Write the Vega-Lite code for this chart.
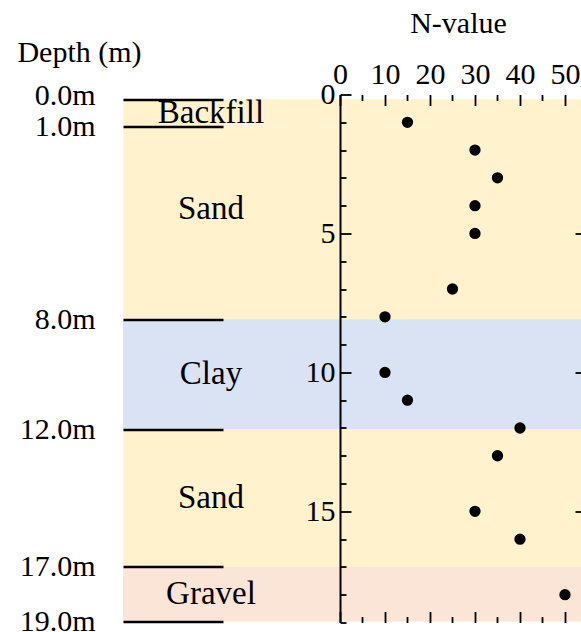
{
  "$schema": "https://vega.github.io/schema/vega-lite/v6.json",
  "autosize": "none",
  "width": 458,
  "height": 528,
  "padding": {"left": 123, "top": 94.5, "right": 0, "bottom": 9.5},
  "background": "white",
  "config": {
    "view": {"stroke": null},
    "font": "Liberation Serif, Times New Roman, serif",
    "axis": {"zindex": 2, "labelFont": "Liberation Serif, Times New Roman, serif", "titleFont": "Liberation Serif, Times New Roman, serif", "labelColor": "black", "titleColor": "black", "tickColor": "black", "domainColor": "black", "grid": false, "labelFlush": false, "labelOverlap": false, "labelBound": false, "titleFontWeight": "normal"}
  },
  "datasets": {
    "layers": [
      {"soil": "Backfill", "top": 0, "bottom": 1, "mid": 0.5},
      {"soil": "Sand", "top": 1, "bottom": 8, "mid": 4},
      {"soil": "Clay", "top": 8, "bottom": 12, "mid": 10},
      {"soil": "Sand", "top": 12, "bottom": 17, "mid": 14.5},
      {"soil": "Gravel", "top": 17, "bottom": 19, "mid": 18}
    ],
    "spt": [
      {"depth": 1, "N": 15},
      {"depth": 2, "N": 30},
      {"depth": 3, "N": 35},
      {"depth": 4, "N": 30},
      {"depth": 5, "N": 30},
      {"depth": 7, "N": 25},
      {"depth": 8, "N": 10},
      {"depth": 10, "N": 10},
      {"depth": 11, "N": 15},
      {"depth": 12, "N": 40},
      {"depth": 13, "N": 35},
      {"depth": 15, "N": 30},
      {"depth": 16, "N": 40},
      {"depth": 18, "N": 50}
    ]
  },
  "resolve": {"scale": {"y": "independent"}, "axis": {"x": "independent", "y": "independent"}},
  "layer": [
    {
      "data": {"name": "layers"},
      "mark": {"type": "rect"},
      "encoding": {
        "y": {"field": "top", "type": "quantitative", "scale": {"domain": [-0.175, 19.036], "nice": false, "zero": false, "reverse": true},
          "axis": {"zindex": 3, "orient": "left", "values": [0, 1, 8, 12, 17, 19], "labelExpr": "format(datum.value, '.1f') + 'm'", "tickSize": -100, "tickWidth": 2.5, "labelPadding": 128, "labelFontSize": 30, "labelBaseline": "middle", "labelAlign": "right", "domain": false,
            "labelOffset": {"condition": {"test": "datum.value === 0", "value": -4}, "value": 0},
            "title": "Depth (m)", "titleAngle": 0, "titleAlign": "center", "titleBaseline": "alphabetic", "titleX": -44, "titleY": -33.5, "titleFontSize": 30}},
        "y2": {"field": "bottom"},
        "color": {"field": "soil", "type": "nominal", "scale": {"domain": ["Backfill", "Sand", "Clay", "Gravel"], "range": ["#FFF2CC", "#FFF2CC", "#DAE3F3", "#FBE5D6"]}, "legend": null}
      }
    },
    {
      "data": {"name": "layers"},
      "mark": {"type": "text", "fontSize": 33, "font": "Liberation Serif, Times New Roman, serif", "align": "center", "baseline": "middle", "color": "black"},
      "encoding": {
        "x": {"datum": -28.67, "type": "quantitative", "scale": {"domain": [-48.22, 53.56], "nice": false, "zero": false}, "axis": null},
        "y": {"field": "mid", "type": "quantitative", "scale": {"domain": [-0.175, 19.036], "nice": false, "zero": false, "reverse": true}, "axis": null},
        "text": {"field": "soil"}
      }
    },
    {
      "data": {"name": "spt"},
      "mark": {"type": "point", "shape": "circle", "filled": true, "color": "black", "size": 128, "opacity": 1},
      "encoding": {
        "x": {"field": "N", "type": "quantitative", "scale": {"domain": [-48.22, 53.56], "nice": false, "zero": false},
          "axis": {"zindex": 3, "orient": "top", "values": [0, 5, 10, 15, 20, 25, 30, 35, 40, 45, 50], "labelExpr": "datum.value % 10 === 0 ? datum.label : ''",
            "tickSize": {"condition": {"test": "datum.value % 10 === 0", "value": -11}, "value": -6}, "tickWidth": 1.8, "labelPadding": 22, "labelFontSize": 30, "labelBaseline": "alphabetic", "domain": false,
            "title": "N-value", "titleAlign": "center", "titleBaseline": "alphabetic", "titleX": 335, "titleY": -62.2, "titleFontSize": 30}},
        "y": {"field": "depth", "type": "quantitative", "scale": {"domain": [0, 19], "nice": false, "zero": false, "reverse": true},
          "axis": {"zindex": 3, "orient": "left", "offset": -217, "values": [0, 1, 2, 3, 4, 5, 6, 7, 8, 9, 10, 11, 12, 13, 14, 15, 16, 17, 18, 19], "labelExpr": "datum.value % 5 === 0 ? datum.label : ''",
            "tickSize": {"condition": {"test": "datum.value % 5 === 0", "value": -11}, "value": -6}, "tickWidth": 1.8, "labelPadding": 16, "labelFontSize": 30, "labelBaseline": "middle", "domain": true, "domainWidth": 2, "title": null}}
      }
    },
    {
      "mark": {"type": "rule", "strokeWidth": 2, "color": "black"},
      "encoding": {
        "x": {"datum": 0, "type": "quantitative", "scale": {"domain": [-48.22, 53.56], "nice": false, "zero": false},
          "axis": {"zindex": 3, "orient": "bottom", "values": [0, 5, 10, 15, 20, 25, 30, 35, 40, 45, 50], "labels": false, "domain": false,
            "tickSize": {"condition": {"test": "datum.value % 10 === 0", "value": -11}, "value": -6}, "tickWidth": 1.8, "title": null}},
        "x2": {"datum": 53.56},
        "y": {"datum": 19, "type": "quantitative", "scale": {"domain": [0, 19], "nice": false, "zero": false, "reverse": true},
          "axis": {"zindex": 3, "orient": "right", "values": [5, 10, 15], "labels": false, "domain": false, "tickSize": -6, "tickWidth": 1.8, "title": null}}
      }
    },
    {
      "mark": {"type": "rule", "strokeWidth": 2, "color": "black"},
      "encoding": {
        "x": {"datum": 0, "type": "quantitative", "scale": {"domain": [-48.22, 53.56], "nice": false, "zero": false}, "axis": null},
        "x2": {"datum": 53.56},
        "y": {"datum": 0, "type": "quantitative", "scale": {"domain": [0, 19], "nice": false, "zero": false, "reverse": true}, "axis": null}
      }
    }
  ]
}
